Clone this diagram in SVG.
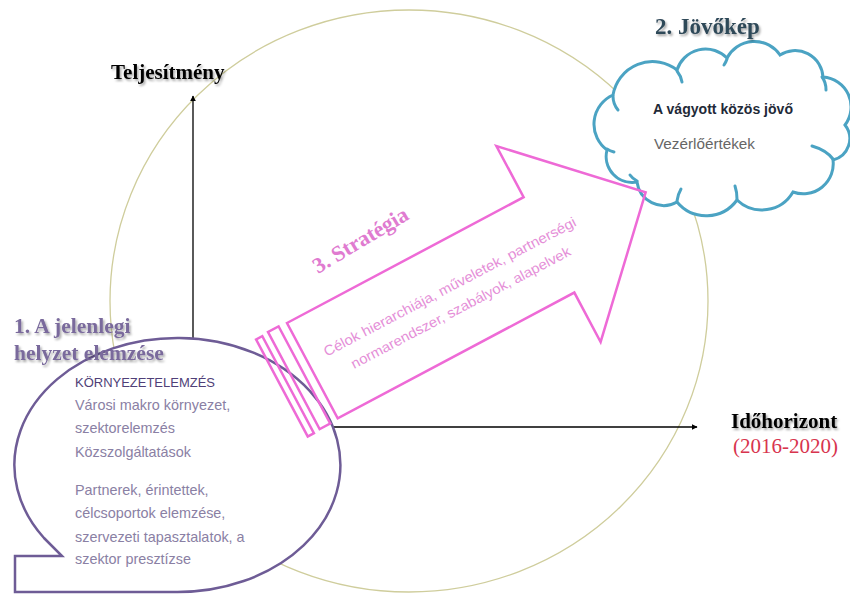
<svg xmlns="http://www.w3.org/2000/svg" width="850" height="596" viewBox="0 0 850 596">
<defs>
<filter id="sh" x="-10%" y="-30%" width="130%" height="170%">
<feDropShadow dx="1.5" dy="2" stdDeviation="1.2" flood-color="#000" flood-opacity="0.35"/>
</filter>
<marker id="ah" viewBox="0 0 10 10" refX="9" refY="5" markerWidth="6" markerHeight="6" markerUnits="userSpaceOnUse" orient="auto">
<path d="M0,0 L10,5 L0,10 Z" fill="#000"/>
</marker>
<style>
.title{font-family:"Liberation Serif","Times New Roman",serif;font-weight:bold;}
.sans{font-family:"Liberation Sans",Arial,sans-serif;}
.body{font-family:"Liberation Sans",Arial,sans-serif;font-size:14.4px;fill:#8a80a4;}
.axis{stroke:#000;stroke-width:1.3;fill:none;}
.pink{fill:none;stroke:#ee6ad6;stroke-width:2.5;stroke-linejoin:miter;}
.cloudline{fill:none;stroke:#4ba3c3;stroke-width:3;stroke-linecap:round;}
</style>
</defs>
<rect width="850" height="596" fill="#fff"/>

<g id="circle">
<ellipse cx="409" cy="301" rx="299" ry="291" fill="none" stroke="#cfcd9c" stroke-width="1.3"/>
</g>

<g id="connectors">
<line class="axis" x1="193" y1="427" x2="193" y2="96" marker-end="url(#ah)"/>
<line class="axis" x1="193" y1="427" x2="697" y2="427" marker-end="url(#ah)"/>
</g>

<g id="vision">
<path d="M607,150 A32,32 0 0 1 613,95 A40,40 0 0 1 677,70 A30,30 0 0 1 727,58 A31,31 0 0 1 780,55 A28,28 0 0 1 823,77 A30,30 0 0 1 845,125 A22,22 0 0 1 833,160 A30,30 0 0 1 793,192 A36,36 0 0 1 737,200 A38,38 0 0 1 677,202 A27,27 0 0 1 637,182 A26,26 0 0 1 607,150 Z" fill="#fff" stroke="#4ba3c3" stroke-width="3"/>
<path class="cloudline" d="M613,96 Q613,104 618,110"/>
<path class="cloudline" d="M677,71 Q681,76 682,82"/>
<path class="cloudline" d="M727,59 Q726,62 724,65"/>
<path class="cloudline" d="M822,77 Q826,82 826,90"/>
<path class="cloudline" d="M833,159 Q826,150 812,146"/>
<path class="cloudline" d="M737,199 Q737,192 735,186"/>
<path class="cloudline" d="M677,201 Q678,194 681,189"/>
<path class="cloudline" d="M637,181 Q632,178 630,175"/>
<path class="cloudline" d="M607,149 Q610,151 614,152"/>
<text class="title" x="655" y="34" font-size="23" fill="#2f4858" filter="url(#sh)">2. Jövőkép</text>
<text class="sans" x="653" y="114" font-size="14.5" fill="#1f2a38" font-weight="bold" textLength="140" lengthAdjust="spacingAndGlyphs">A vágyott közös jövő</text>
<text class="sans" x="654" y="149" font-size="14.5" fill="#666" textLength="101" lengthAdjust="spacingAndGlyphs">Vezérlőértékek</text>
</g>

<g id="current">
<path d="M44,538 L62,556 L15,556 L15,592 L177,592 A163,127 0 1 0 44,538 Z" fill="#fff" stroke="#6e5c96" stroke-width="2.5" stroke-linejoin="miter"/>
<text class="title" x="14" y="333" font-size="21.5" fill="#7a6a9c" filter="url(#sh)">1. A jelenlegi</text>
<text class="title" x="14" y="360" font-size="21.5" fill="#7a6a9c" filter="url(#sh)">helyzet elemzése</text>
<text class="sans" x="75" y="387" font-size="13" fill="#4f3f78" textLength="140" lengthAdjust="spacingAndGlyphs">KÖRNYEZETELEMZÉS</text>
<text class="body" x="75" y="410">Városi makro környezet,</text>
<text class="body" x="75" y="433">szektorelemzés</text>
<text class="body" x="75" y="457">Közszolgáltatások</text>
<text class="body" x="75" y="495">Partnerek, érintettek,</text>
<text class="body" x="75" y="518">célcsoportok elemzése,</text>
<text class="body" x="75" y="542">szervezeti tapasztalatok, a</text>
<text class="body" x="75" y="564">szektor presztízse</text>
</g>

<g id="strategy">
<g transform="translate(287 323) rotate(-28)">
<path class="pink" d="M0,0 L268,0 L268,-58 L378,53 L268,164 L268,108 L0,108 Z"/>
<rect class="pink" x="-35" y="0" width="7" height="110"/>
<rect class="pink" x="-21" y="-1" width="12" height="110"/>
</g>
<text class="title" transform="translate(318 274) rotate(-31)" font-size="22" fill="#e07bd0">3. Stratégia</text>
<g transform="translate(452 291) rotate(-27.7)">
<text class="sans" x="0" y="0" font-size="14" fill="#e58fd8" text-anchor="middle" textLength="283" lengthAdjust="spacingAndGlyphs">Célok hierarchiája, műveletek, partnerségi</text>
<text class="sans" x="0" y="23.5" font-size="14" fill="#e58fd8" text-anchor="middle" textLength="246" lengthAdjust="spacingAndGlyphs">normarendszer, szabályok, alapelvek</text>
</g>
</g>

<g id="labels">
<text class="title" x="111" y="79" font-size="21" fill="#000" filter="url(#sh)">Teljesítmény</text>
<text class="title" x="731" y="428" font-size="21" fill="#000" filter="url(#sh)">Időhorizont</text>
<text x="733" y="453" font-size="21" fill="#d8344e" font-family="Liberation Serif, Times New Roman, serif">(2016-2020)</text>
</g>
</svg>
